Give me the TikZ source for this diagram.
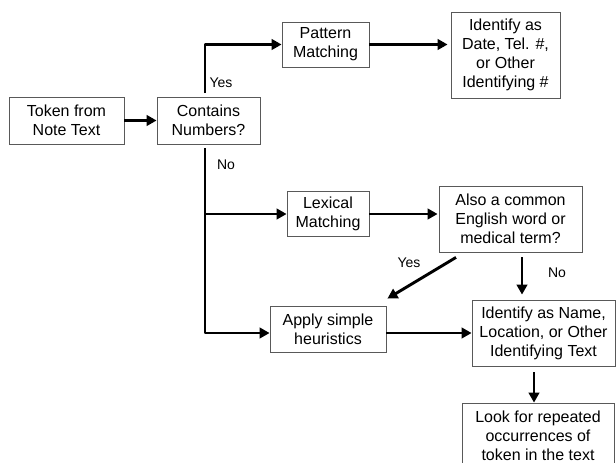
\documentclass[tikz,border=0pt]{standalone}
\usepackage{fontspec}
\setmainfont{Liberation Sans}
\usetikzlibrary{arrows.meta,calc}
\begin{document}
\begin{tikzpicture}[x=1pt,y=-1pt,
  box/.style={draw=black!65,line width=0.8pt,fill=white,align=center,inner sep=0pt,
    font=\fontsize{16}{19}\selectfont},
  arr/.style={line width=2.9pt,-{Triangle[length=10pt,width=10.5pt]}},
  ln/.style={line width=2.9pt},
  lbl/.style={font=\fontsize{14}{16}\selectfont,inner sep=0pt}]
\clip (0,0) rectangle (616,463);
\fill[white] (0,0) rectangle (616,463);
\node[box,minimum width=115pt,minimum height=47pt] (token) at (66.5,120.5) {Token from\\Note Text};
\node[box,minimum width=103pt,minimum height=47pt] (contains) at (208.5,120.5) {Contains\\Numbers?};
\node[box,minimum width=87pt,minimum height=45pt] (pattern) at (325.5,44.5) {Pattern\\Matching};
\node[box,minimum width=109pt,minimum height=86pt] (idnum) at (505.5,55) {Identify as\\Date, Tel. \#,\\or Other\\Identifying \#};
\node[box,minimum width=82pt,minimum height=45pt] (lexical) at (328,214) {Lexical\\Matching};
\node[box,minimum width=143pt,minimum height=66pt] (also) at (510.5,219) {Also a common\\English word or\\medical term?};
\node[box,minimum width=116pt,minimum height=46pt] (apply) at (328,329) {Apply simple\\heuristics};
\node[box,minimum width=143pt,minimum height=66pt] (name) at (543.5,333) {Identify as Name,\\Location, or Other\\Identifying Text};
\node[box,minimum width=152pt,minimum height=66pt] (look) at (538,436) {Look for repeated\\occurrences of\\token in the text};

\coordinate (up) at (205,93);
\coordinate (upc) at (205,44.5);
\coordinate (dn) at (205,148);
\coordinate (dnl) at (205,214);
\coordinate (dna) at (205,333);

\draw[arr] (token.east) -- (contains.west);
\draw[arr,line join=round] (up) -- (upc) -- (pattern.west);
\draw[arr] (pattern.east) -- ([xshift=-3pt]idnum.west |- pattern.east);
\draw[ln] (dn) -- (dnl);
\draw[arr] (dnl) -- (lexical.west);
\draw[arr,line join=round] (dnl) -- (dna) -- (apply.west |- dna);
\draw[arr] (lexical.east) -- ([xshift=-1pt]also.west |- lexical.east);
\draw[arr] ($(also.south)+(11.5,5)$) -- ($(name.north)+(-21.5,-5)$);
\draw[arr] ($(also.south)+(-54.5,5)$) -- ($(apply.north east)+(1,-7)$);
\draw[arr] (apply.east |- name.west) -- (name.west);
\draw[arr] ($(name.south)+(-9.5,6)$) -- (look.north -| {$(name.south)+(-9.5,0)$});

\node[lbl] (yes1) at (221,83) {Yes};
\node[lbl] (no1) at (226,165) {No};
\node[lbl] (yes2) at (409,263) {Yes};
\node[lbl] (no2) at (557,273) {No};
\end{tikzpicture}
\end{document}
